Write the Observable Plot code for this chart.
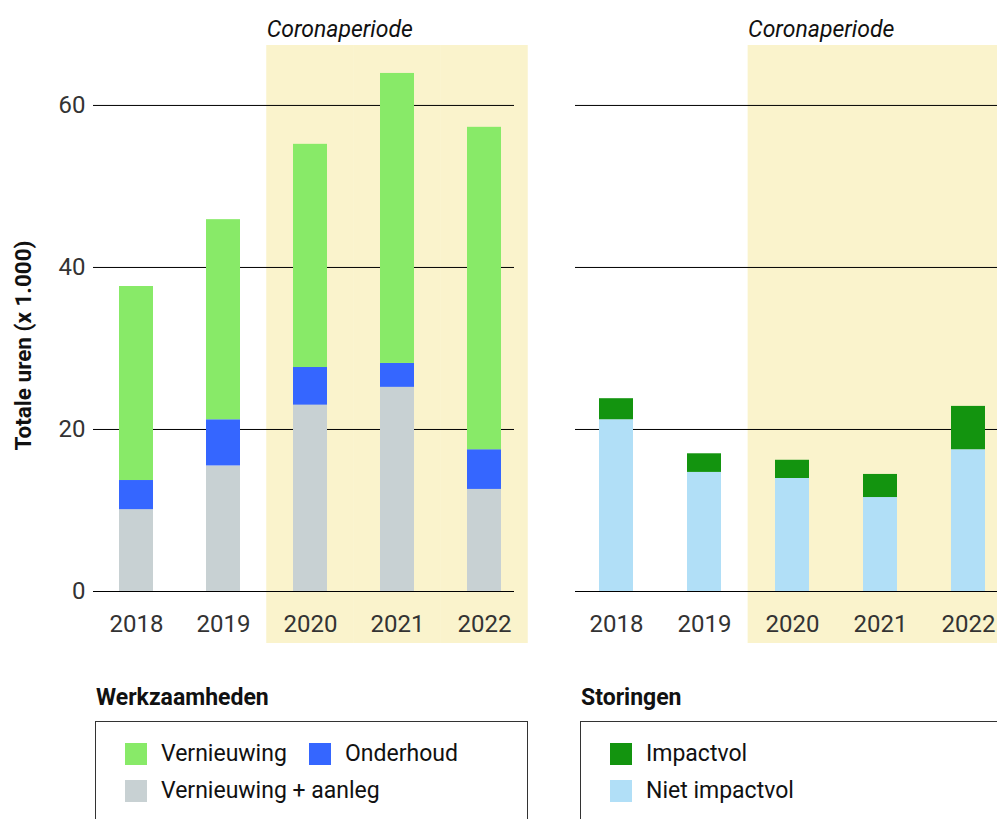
<!DOCTYPE html>
<html><head><meta charset="utf-8">
<script src="https://cdn.jsdelivr.net/npm/d3@7"></script>
<script src="https://cdn.jsdelivr.net/npm/@observablehq/plot@0.6"></script>
<style>
body{margin:0;background:#fff;font-family:Roboto, sans-serif;}
#wrap{position:relative;width:997px;height:819px;overflow:hidden;background:#fff;}
#left{position:absolute;left:0;top:0;}
#right{position:absolute;left:540px;top:0;}
.lg-title{position:absolute;top:686px;font-weight:700;font-size:23px;line-height:23px;color:#111;}
.lg-box{position:absolute;top:721px;height:140px;border:1.5px solid #333;box-sizing:border-box;}
.item{position:absolute;display:flex;align-items:center;font-size:23px;line-height:22px;color:#111;white-space:nowrap;}
.sw{width:22px;height:22px;margin-right:14px;flex:none;}
</style></head><body>
<div id="wrap">
  <div id="left"></div>
  <div id="right"></div>
  <div id="legend"></div>
</div>
<script>
const years = ["2018", "2019", "2020", "2021", "2022"];
const coronaYears = ["2020", "2021", "2022"];
const coronaLabel = "Coronaperiode";
const yTitle = "Totale uren (x 1.000)";
const yTicks = [0, 20, 40, 60];
const yMax = 67.4;

// Werkzaamheden (x 1.000 uur)
const vernieuwingAanleg = [10.1, 15.5, 23.0, 25.2, 12.6];
const onderhoud = [3.6, 5.7, 4.65, 2.95, 4.9];
const vernieuwing = [23.95, 24.7, 27.55, 35.8, 39.8];
// Storingen (x 1.000 uur)
const nietImpactvol = [21.2, 14.7, 13.95, 11.6, 17.5];
const impactvol = [2.6, 2.3, 2.25, 2.85, 5.35];

const werkCats = ["Vernieuwing + aanleg", "Onderhoud", "Vernieuwing"];
const werkColors = ["#c8d1d3", "#3566ff", "#88ea68"];
const storCats = ["Niet impactvol", "Impactvol"];
const storColors = ["#b1dff7", "#13940f"];
const bandColor = "#faf3cc";

const werkSeries = [vernieuwingAanleg, onderhoud, vernieuwing];
const storSeries = [nietImpactvol, impactvol];

const werkData = [];
years.forEach((yr, i) => werkCats.forEach((c, k) => werkData.push({year: yr, cat: c, value: werkSeries[k][i]})));
const storData = [];
years.forEach((yr, i) => storCats.forEach((c, k) => storData.push({year: yr, cat: c, value: storSeries[k][i]})));

function panel({data, cats, colors, width, marginLeft, marginRight, insetLeft, insetRight, padding, showY}) {
  const range = width - marginLeft - marginRight - insetLeft - insetRight;
  const step = range / (years.length - padding);
  const bw = step * (1 - padding);
  const gapHalf = (step - bw) / 2;
  const marks = [
    Plot.barY(coronaYears, {x: d => d, y1: 0, y2: yMax, fill: bandColor,
      insetLeft: -gapHalf, insetRight: -gapHalf, insetBottom: -52}),
    Plot.ruleY(yTicks, {stroke: "#000", strokeWidth: 1}),
    Plot.barY(data, {x: "year", y: "value", fill: "cat"}),
    Plot.axisX({tickSize: 0, tickPadding: 23, fill: "#333", fontSize: 24}),
    Plot.text([{year: coronaYears[0], label: coronaLabel}], {
      x: "year", text: "label", frameAnchor: "top", textAnchor: "start",
      lineAnchor: "bottom", dx: -step / 2, dy: -9, fontStyle: "italic", fontSize: 23, fill: "#111"})
  ];
  if (showY) {
    marks.push(Plot.axisY({ticks: yTicks, tickSize: 0, tickPadding: 8, fill: "#333", fontSize: 24, label: null}));
    marks.push(Plot.text([yTitle], {frameAnchor: "left", rotate: -90, dx: -69.5, dy: 27,
      fontWeight: "bold", fontSize: 22.5, fill: "#111", textAnchor: "middle", lineAnchor: "middle"}));
  }
  return Plot.plot({
    width, height: 650, marginTop: 45, marginBottom: 59, marginLeft, marginRight,
    style: {fontFamily: "Roboto, sans-serif", fontSize: "24px", color: "#333", background: "transparent", overflow: "visible"},
    x: {domain: years, insetLeft, insetRight, paddingInner: padding, paddingOuter: 0, label: null, axis: null},
    y: {domain: [0, yMax], label: null, axis: null},
    color: {domain: cats, range: colors},
    marks
  });
}

document.getElementById("left").appendChild(panel({
  data: werkData, cats: werkCats, colors: werkColors, width: 540,
  marginLeft: 93, marginRight: 26, insetLeft: 24, insetRight: 12, padding: 0.61, showY: true}));
document.getElementById("right").appendChild(panel({
  data: storData, cats: storCats, colors: storColors, width: 457,
  marginLeft: 35, marginRight: 0, insetLeft: 22, insetRight: 11, padding: 0.617, showY: false}));

// Legends
const legends = [
  {title: "Werkzaamheden", left: 95, width: 433,
   items: [
     {label: "Vernieuwing", color: werkColors[2], x: 30, row: 0},
     {label: "Onderhoud", color: werkColors[1], x: 214, row: 0},
     {label: "Vernieuwing + aanleg", color: werkColors[0], x: 30, row: 1}]},
  {title: "Storingen", left: 580, width: 440,
   items: [
     {label: "Impactvol", color: storColors[1], x: 30, row: 0},
     {label: "Niet impactvol", color: storColors[0], x: 30, row: 1}]}
];
const lg = document.getElementById("legend");
legends.forEach(L => {
  const t = document.createElement("div");
  t.className = "lg-title"; t.textContent = L.title; t.style.left = (L.left + 1) + "px";
  lg.appendChild(t);
  const box = document.createElement("div");
  box.className = "lg-box"; box.style.left = L.left + "px"; box.style.width = L.width + "px";
  lg.appendChild(box);
  L.items.forEach(it => {
    const d = document.createElement("div");
    d.className = "item";
    d.style.left = (L.left + it.x) + "px";
    d.style.top = (743 + it.row * 37) + "px";
    const s = document.createElement("div"); s.className = "sw"; s.style.background = it.color;
    const tx = document.createElement("span"); tx.textContent = it.label;
    d.appendChild(s); d.appendChild(tx);
    lg.appendChild(d);
  });
});
</script>
</body></html>
